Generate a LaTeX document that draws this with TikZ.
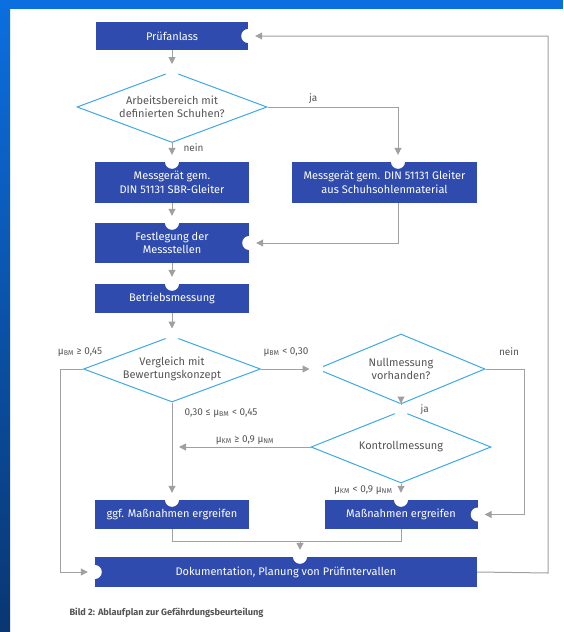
\documentclass[tikz,border=0pt]{standalone}
\usepackage{fontspec}
\setmainfont{Fira Sans}
\usetikzlibrary{shapes.geometric,arrows.meta}
\definecolor{boxblue}{HTML}{2E4BAD}
\definecolor{rimblue}{HTML}{3FA9E5}
\definecolor{linegray}{HTML}{A0A0A0}
\definecolor{textgray}{HTML}{555555}
\definecolor{barblue}{HTML}{0B6FE0}
\definecolor{barnavy}{HTML}{0A3672}

\begin{document}
\begin{tikzpicture}[x=1pt,y=-1pt,
  box/.style={rectangle, fill=boxblue, text=white, align=center, inner sep=2pt,
    font=\fontsize{11}{13.5}\selectfont},
  decision/.style={diamond, draw=rimblue, line width=1pt, fill=white, align=center,
    inner sep=0pt, text=textgray, font=\fontsize{11}{13.5}\selectfont},
  flow/.style={draw=linegray, line width=1pt},
  arr/.style={flow, -{Triangle[length=7pt,width=7pt]}, shorten >=7pt},
  lab/.style={text=textgray, font=\fontsize{10}{12}\selectfont}]
\useasboundingbox (0,0) rectangle (563,632);
% page and blue frame
\fill[white] (0,0) rectangle (563,632);
\shade[top color=barblue, bottom color=barnavy] (0,0) rectangle (10,632);
\fill[barblue] (0,0) rectangle (563,9);

% boxes and decisions
\node[box, minimum width=152pt, minimum height=28pt] (P) at (172,36) {Prüfanlass};
\node[decision, aspect=2.68, minimum width=190pt, minimum height=71pt] (D1) at (172,107) {Arbeitsbereich mit\\definierten Schuhen?};
\node[box, minimum width=154pt, minimum height=41pt] (M1) at (172,182.5) {Messgerät gem.\\DIN 51131 SBR-Gleiter};
\node[box, minimum width=185pt, minimum height=41pt] (M2) at (384.5,182.5) {Messgerät gem. DIN 51131 Gleiter\\aus Schuhsohlenmaterial};
\node[box, minimum width=154pt, minimum height=40pt] (F) at (172,243) {Festlegung der\\Messstellen};
\node[box, minimum width=154pt, minimum height=29pt] (B) at (172,298.5) {Betriebsmessung};
\node[decision, aspect=2.68, minimum width=177pt, minimum height=66pt] (D2) at (172,369) {Vergleich mit\\Bewertungskonzept};
\node[decision, aspect=2.4, minimum width=168pt, minimum height=70pt] (D3) at (401,369) {Nullmessung\\vorhanden?};
\node[decision, aspect=2.5, minimum width=180pt, minimum height=72pt] (D4) at (401,447) {Kontrollmessung};
\node[box, minimum width=154pt, minimum height=29pt] (G) at (172,514.5) {ggf. Maßnahmen ergreifen};
\node[box, minimum width=153pt, minimum height=29pt] (M) at (401,514.5) {Maßnahmen ergreifen};
\node[box, minimum width=382pt, minimum height=30pt] (Dok) at (286,572) {Dokumentation, Planung von Prüfintervallen};

% corners of the connectors
\coordinate (J) at (398,107);
\coordinate (J2) at (J |- M2.north);
\coordinate (K) at (J |- F.east);
\coordinate (L) at (60,369);
\coordinate (R) at (524,369);
\coordinate (S) at (548,573);
\coordinate (U) at (300,541);
\coordinate (U2) at (U |- Dok.north);

% white notches at the entries
\foreach \p in {P.east, D1.north, M1.north, J2, F.north, F.east, B.north, D2.north,
  D3.west, D4.north, G.north, M.north, M.east, U2, Dok.west}
  \fill[white] (\p) circle (7pt);

% connectors
\draw[arr] (P) -- (D1.north);
\draw[arr] (D1) -- (M1.north);
\node[lab, anchor=west] (l0) at (180,148) {nein};
\draw[arr] (D1.east) -- (J) node[lab, pos=0.35, above] {ja} -- (J2);
\draw[arr] (M1) -- (F.north);
\draw[arr] (M2.south -| J) -- (K) -- (F.east);
\draw[arr] (F) -- (B.north);
\draw[arr] (B) -- (D2.north);
\draw[arr] (D2.east) -- (D3.west);
\node[lab] (l1) at (286,352) {μ\textsubscript{BM} < 0,30};
\draw[arr] (D2.west) -- (L) -- (L |- Dok.west) -- (Dok.west);
\node[lab] (l2) at (80,352) {μ\textsubscript{BM} ≥ 0,45};
\draw[arr] (D3.east) -- (R) -- (R |- M.east) -- (M.east);
\node[lab] (l3) at (509,352) {nein};
\draw[arr] (D3) -- (D4.north);
\node[lab, anchor=west] (l4) at (417,410) {ja};
\draw[arr] (D2) -- (G.north);
\node[lab, anchor=west] (l5) at (181,413) {0,30 ≤ μ\textsubscript{BM} < 0,45};
\draw[arr] (D4.west) -- (D4.west -| G.north);
\node[lab] (l6) at (245,440) {μ\textsubscript{KM} ≥ 0,9 μ\textsubscript{NM}};
\draw[arr] (D4) -- (M.north);
\node[lab, anchor=east] (l7) at (396,490) {μ\textsubscript{KM} < 0,9 μ\textsubscript{NM}};
\draw[flow] (G) -- (G.south |- U) -- (M.south |- U) -- (M);
\draw[arr] (U) -- (U2);
\draw[arr] (Dok.east) -- (S) -- (S |- P.east) -- (P.east);

% caption
\node[anchor=west, text=textgray, font=\fontsize{9.2}{11}\selectfont\bfseries] (cap) at (66,613)
  {Bild 2: Ablaufplan zur Gefährdungsbeurteilung};
\end{tikzpicture}
\end{document}
